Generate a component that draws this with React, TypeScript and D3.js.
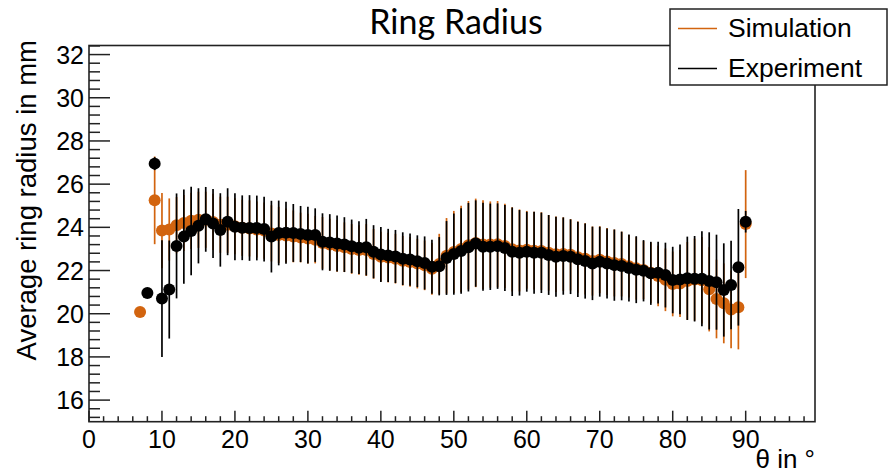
import React from "react";
import * as d3 from "d3";

const W = 890;
const H = 475;

// Experiment (black)
const expTheta = [8, 9, 10, 11, 12, 13, 14, 15, 16, 17, 18, 19, 20, 21, 22, 23, 24, 25, 26, 27, 28, 29, 30, 31, 32, 33, 34, 35, 36, 37, 38, 39, 40, 41, 42, 43, 44, 45, 46, 47, 48, 49, 50, 51, 52, 53, 54, 55, 56, 57, 58, 59, 60, 61, 62, 63, 64, 65, 66, 67, 68, 69, 70, 71, 72, 73, 74, 75, 76, 77, 78, 79, 80, 81, 82, 83, 84, 85, 86, 87, 88, 89, 90];
const expRadius = [20.96, 26.95, 20.7, 21.12, 23.14, 23.57, 23.83, 24.07, 24.37, 24.18, 23.88, 24.26, 24.03, 23.98, 23.97, 23.97, 23.92, 23.57, 23.74, 23.75, 23.74, 23.69, 23.64, 23.64, 23.33, 23.3, 23.25, 23.2, 23.12, 23.06, 23.08, 22.87, 22.74, 22.7, 22.65, 22.55, 22.51, 22.43, 22.35, 22.18, 22.2, 22.58, 22.76, 22.9, 23.08, 23.25, 23.1, 23.1, 23.13, 23.04, 22.87, 22.82, 22.87, 22.82, 22.82, 22.72, 22.64, 22.67, 22.64, 22.52, 22.44, 22.33, 22.41, 22.33, 22.25, 22.21, 22.12, 22.04, 21.99, 21.87, 21.9, 21.79, 21.56, 21.59, 21.64, 21.62, 21.62, 21.52, 21.46, 21.1, 21.33, 22.15, 24.26];
const expError = [0.2, 0.3, 2.7, 2.27, 2.43, 2.18, 2.05, 1.74, 1.5, 1.6, 1.7, 1.55, 1.55, 1.5, 1.52, 1.5, 1.5, 1.66, 1.5, 1.44, 1.34, 1.3, 1.31, 1.24, 1.32, 1.31, 1.3, 1.27, 1.24, 1.22, 1.31, 1.23, 1.27, 1.23, 1.23, 1.22, 1.21, 1.2, 1.23, 1.25, 1.35, 1.71, 1.88, 1.98, 2.05, 2.0, 2.04, 2.0, 1.98, 1.99, 2.05, 1.98, 1.85, 1.9, 1.86, 1.85, 1.85, 1.79, 1.73, 1.74, 1.74, 1.7, 1.62, 1.62, 1.65, 1.59, 1.55, 1.55, 1.42, 1.46, 1.43, 1.5, 1.54, 1.62, 1.93, 1.98, 2.2, 2.25, 2.2, 2.16, 2.05, 2.7, 0.5];

// Simulation (orange)
const simTheta = [7, 9, 10, 11, 12, 13, 14, 15, 16, 17, 18, 19, 20, 21, 22, 23, 24, 25, 26, 27, 28, 29, 30, 31, 32, 33, 34, 35, 36, 37, 38, 39, 40, 41, 42, 43, 44, 45, 46, 47, 48, 49, 50, 51, 52, 53, 54, 55, 56, 57, 58, 59, 60, 61, 62, 63, 64, 65, 66, 67, 68, 69, 70, 71, 72, 73, 74, 75, 76, 77, 78, 79, 80, 81, 82, 83, 84, 85, 86, 87, 88, 89, 90];
const simRadius = [20.08, 25.25, 23.85, 23.9, 24.1, 24.2, 24.3, 24.35, 24.35, 24.25, 24.12, 24.12, 24.05, 23.98, 23.95, 23.9, 23.85, 23.72, 23.65, 23.62, 23.58, 23.53, 23.48, 23.43, 23.28, 23.2, 23.14, 23.08, 23.0, 22.95, 22.95, 22.77, 22.64, 22.6, 22.55, 22.45, 22.4, 22.32, 22.24, 22.08, 22.3, 22.68, 22.86, 23.0, 23.17, 23.28, 23.2, 23.2, 23.22, 23.14, 22.98, 22.93, 22.96, 22.92, 22.9, 22.82, 22.75, 22.76, 22.73, 22.62, 22.54, 22.44, 22.5, 22.42, 22.35, 22.3, 22.2, 22.1, 22.02, 21.9, 21.75, 21.57, 21.38, 21.4, 21.52, 21.58, 21.55, 21.13, 20.68, 20.48, 20.2, 20.3, 24.15];
const simError = [0.05, 2.03, 1.74, 1.44, 1.3, 1.3, 1.3, 1.3, 1.3, 1.3, 1.3, 1.3, 1.3, 1.3, 1.3, 1.3, 1.3, 1.3, 1.3, 1.25, 1.2, 1.15, 1.15, 1.1, 1.2, 1.2, 1.2, 1.15, 1.15, 1.15, 1.2, 1.15, 1.15, 1.15, 1.15, 1.15, 1.15, 1.15, 1.15, 1.2, 1.4, 1.75, 1.9, 2.0, 2.05, 2.05, 2.05, 2.0, 2.0, 1.95, 1.95, 1.9, 1.8, 1.8, 1.8, 1.75, 1.75, 1.7, 1.65, 1.65, 1.65, 1.6, 1.55, 1.55, 1.55, 1.5, 1.45, 1.45, 1.35, 1.4, 1.4, 1.45, 1.5, 1.55, 1.8, 1.9, 2.0, 1.95, 1.82, 1.85, 1.8, 1.95, 2.5];

const xMajorTicks = [0, 10, 20, 30, 40, 50, 60, 70, 80, 90];
const yMajorTicks = [16, 18, 20, 22, 24, 26, 28, 30, 32];

const titleText = "Ring Radius";
const xLabel = "θ in °";
const yLabel = "Average ring radius in mm";
const seriesNames = ["Simulation", "Experiment"];

const ORANGE = "#d2640f";
const BLACK = "#000000";
const AXIS = "#222222";
const FONT = "'Liberation Sans', Arial, Helvetica, sans-serif";

const left = 89;
const right = 815;
const top = 45.5;
const bottom = 421.7;

export default function App() {
  const x = d3.scaleLinear().domain([0, 99.5]).range([left, right]);
  const y = d3.scaleLinear().domain([15, 32.42]).range([bottom, top]);

  const xMinor = d3.range(0, 99, 2).filter((v) => v % 10 !== 0);
  const yMinor = d3.range(15.2, 32.45, 0.4).filter((v) => Math.abs(v / 2 - Math.round(v / 2)) > 0.01);

  const sim = simTheta.map((t, i) => ({ t, v: simRadius[i], e: simError[i] }));
  const exp = expTheta.map((t, i) => ({ t, v: expRadius[i], e: expError[i] }));

  const r = 6;

  return (
    <svg
      width={W}
      height={H}
      style={{ position: "absolute", left: 0, top: 0, background: "#fff" }}
      fontFamily={FONT}
    >
      <rect x={0} y={0} width={W} height={H} fill="#fff" />
      {/* title */}
      <text x={456} y={34} textAnchor="middle" fontSize={34} fontFamily="Lato, 'Open Sans', sans-serif" fill="#000">
        {titleText}
      </text>

      {/* frame */}
      <rect x={left} y={top} width={right - left} height={bottom - top} fill="none" stroke={AXIS} strokeWidth={1.6} />

      {/* y ticks */}
      {yMajorTicks.map((v) => (
        <g key={"ym" + v}>
          <line x1={left} x2={left + 21} y1={y(v)} y2={y(v)} stroke={AXIS} strokeWidth={1.5} />
          <text x={84} y={y(v)} dy="0.36em" textAnchor="end" fontSize={25} fill="#000">
            {v}
          </text>
        </g>
      ))}
      {yMinor.map((v) => (
        <line key={"yn" + v} x1={left} x2={left + 11} y1={y(v)} y2={y(v)} stroke={AXIS} strokeWidth={1.5} />
      ))}

      {/* x ticks */}
      {xMajorTicks.map((v) => (
        <g key={"xm" + v}>
          <line x1={x(v)} x2={x(v)} y1={bottom} y2={bottom - 11} stroke={AXIS} strokeWidth={1.5} />
          <text x={x(v)} y={448} textAnchor="middle" fontSize={25} fill="#000">
            {v}
          </text>
        </g>
      ))}
      {xMinor.map((v) => (
        <line key={"xn" + v} x1={x(v)} x2={x(v)} y1={bottom} y2={bottom - 5.5} stroke={AXIS} strokeWidth={1.5} />
      ))}

      {/* axis labels */}
      <text x={right} y={468} textAnchor="end" fontSize={26} fill="#000">
        {xLabel}
      </text>
      <text
        transform={`translate(36, 40) rotate(-90)`}
        textAnchor="end"
        fontSize={27.5}
        fill="#000"
      >
        {yLabel}
      </text>

      {/* simulation */}
      <g>
        {sim.map((d) => (
          <line key={"se" + d.t} x1={x(d.t)} x2={x(d.t)} y1={y(d.v - d.e)} y2={y(d.v + d.e)} stroke={ORANGE} strokeWidth={1.7} />
        ))}
        {sim.map((d) => (
          <circle key={"sp" + d.t} cx={x(d.t)} cy={y(d.v)} r={r} fill={ORANGE} />
        ))}
      </g>
      {/* experiment */}
      <g>
        {exp.map((d) => (
          <line key={"ee" + d.t} x1={x(d.t)} x2={x(d.t)} y1={y(d.v - d.e)} y2={y(d.v + d.e)} stroke={BLACK} strokeWidth={1.7} />
        ))}
        {exp.map((d) => (
          <circle key={"ep" + d.t} cx={x(d.t)} cy={y(d.v)} r={r} fill={BLACK} />
        ))}
      </g>

      {/* legend */}
      <rect x={670} y={9} width={217} height={76} fill="#fff" stroke={AXIS} strokeWidth={1.5} />
      <line x1={678} x2={717} y1={28.5} y2={28.5} stroke={ORANGE} strokeWidth={1.5} />
      <text x={728} y={37} fontSize={26.5} fill="#000">{seriesNames[0]}</text>
      <line x1={678} x2={717} y1={68.5} y2={68.5} stroke={BLACK} strokeWidth={1.5} />
      <text x={728} y={77} fontSize={26.5} fill="#000">{seriesNames[1]}</text>
    </svg>
  );
}
